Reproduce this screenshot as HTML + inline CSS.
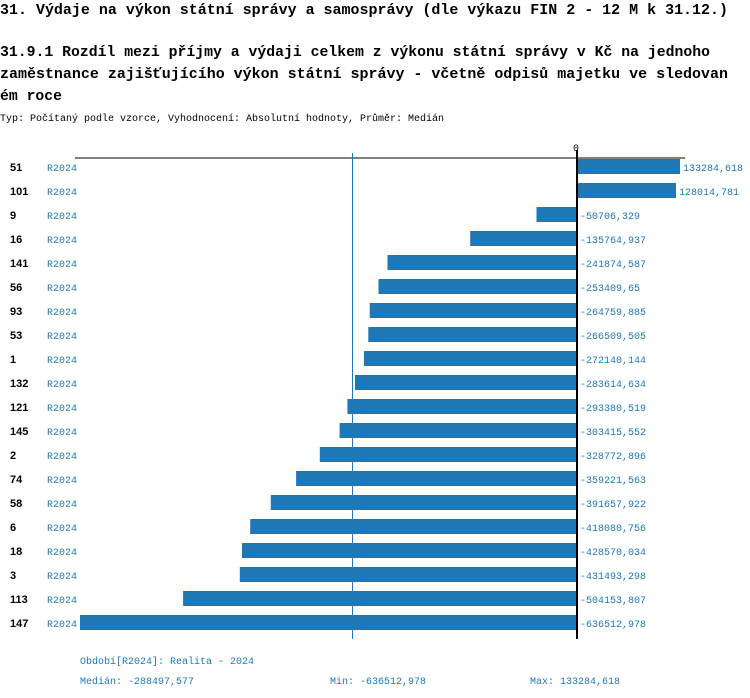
<!DOCTYPE html>
<html><head><meta charset="utf-8"><style>
body{margin:0;background:#fff;}
svg{display:block;}
.t{font-family:"Liberation Mono",monospace;font-weight:bold;font-size:15px;fill:#000;}
.s{font-family:"Liberation Mono",monospace;font-size:10px;fill:#000;}
.b{font-family:"Liberation Mono",monospace;font-size:10px;fill:#1f77b4;}
.n{font-family:"Liberation Sans",sans-serif;font-weight:bold;font-size:11px;fill:#000;}
</style></head><body>
<svg width="750" height="698" xmlns="http://www.w3.org/2000/svg">
<text class="t" x="0" y="14" textLength="728" lengthAdjust="spacingAndGlyphs">31. Výdaje na výkon státní správy a samosprávy (dle výkazu FIN 2 - 12 M k 31.12.)</text>
<text class="t" x="0" y="56" textLength="710" lengthAdjust="spacingAndGlyphs">31.9.1 Rozdíl mezi příjmy a výdaji celkem z výkonu státní správy v Kč na jednoho</text>
<text class="t" x="0" y="78" textLength="728" lengthAdjust="spacingAndGlyphs">zaměstnance zajišťujícího výkon státní správy - včetně odpisů majetku ve sledovan</text>
<text class="t" x="0" y="100" textLength="62" lengthAdjust="spacingAndGlyphs">ém roce</text>
<text class="s" x="0" y="121" textLength="444" lengthAdjust="spacingAndGlyphs">Typ: Počítaný podle vzorce, Vyhodnocení: Absolutní hodnoty, Průměr: Medián</text>
<line x1="75" y1="158" x2="685" y2="158" stroke="#000" stroke-width="1"/>
<text class="s" x="573" y="151">0</text>
<g fill="#1f77b4">
<rect x="576" y="159" width="104" height="15"/>
<rect x="576" y="183" width="100" height="15"/>
<rect x="536.5" y="207" width="39.5" height="15"/>
<rect x="470.2" y="231" width="105.8" height="15"/>
<rect x="387.5" y="255" width="188.5" height="15"/>
<rect x="378.5" y="279" width="197.5" height="15"/>
<rect x="369.7" y="303" width="206.3" height="15"/>
<rect x="368.3" y="327" width="207.7" height="15"/>
<rect x="363.9" y="351" width="212.1" height="15"/>
<rect x="355" y="375" width="221" height="15"/>
<rect x="347.4" y="399" width="228.6" height="15"/>
<rect x="339.6" y="423" width="236.4" height="15"/>
<rect x="319.8" y="447" width="256.2" height="15"/>
<rect x="296.1" y="471" width="279.9" height="15"/>
<rect x="270.8" y="495" width="305.2" height="15"/>
<rect x="250.2" y="519" width="325.8" height="15"/>
<rect x="242" y="543" width="334" height="15"/>
<rect x="239.8" y="567" width="336.2" height="15"/>
<rect x="183.1" y="591" width="392.9" height="15"/>
<rect x="80" y="615" width="496" height="15"/>
</g>
<line x1="352.5" y1="153" x2="352.5" y2="639" stroke="#1f77b4" stroke-width="1"/>
<line x1="577" y1="150" x2="577" y2="639" stroke="#000" stroke-width="2"/>
<g class="n">
<text x="10" y="171">51</text><text x="10" y="195">101</text><text x="10" y="219">9</text><text x="10" y="243">16</text>
<text x="10" y="267">141</text><text x="10" y="291">56</text><text x="10" y="315">93</text><text x="10" y="339">53</text>
<text x="10" y="363">1</text><text x="10" y="387">132</text><text x="10" y="411">121</text><text x="10" y="435">145</text>
<text x="10" y="459">2</text><text x="10" y="483">74</text><text x="10" y="507">58</text><text x="10" y="531">6</text>
<text x="10" y="555">18</text><text x="10" y="579">3</text><text x="10" y="603">113</text><text x="10" y="627">147</text>
</g>
<g class="b">
<text x="47" y="171">R2024</text><text x="47" y="195">R2024</text><text x="47" y="219">R2024</text><text x="47" y="243">R2024</text>
<text x="47" y="267">R2024</text><text x="47" y="291">R2024</text><text x="47" y="315">R2024</text><text x="47" y="339">R2024</text>
<text x="47" y="363">R2024</text><text x="47" y="387">R2024</text><text x="47" y="411">R2024</text><text x="47" y="435">R2024</text>
<text x="47" y="459">R2024</text><text x="47" y="483">R2024</text><text x="47" y="507">R2024</text><text x="47" y="531">R2024</text>
<text x="47" y="555">R2024</text><text x="47" y="579">R2024</text><text x="47" y="603">R2024</text><text x="47" y="627">R2024</text>
</g>
<g class="b">
<text x="683" y="171">133284,618</text><text x="679" y="195">128014,781</text>
<text x="580" y="219">-50706,329</text><text x="580" y="243">-135764,937</text>
<text x="580" y="267">-241874,587</text><text x="580" y="291">-253409,65</text>
<text x="580" y="315">-264759,885</text><text x="580" y="339">-266509,505</text>
<text x="580" y="363">-272140,144</text><text x="580" y="387">-283614,634</text>
<text x="580" y="411">-293380,519</text><text x="580" y="435">-303415,552</text>
<text x="580" y="459">-328772,896</text><text x="580" y="483">-359221,563</text>
<text x="580" y="507">-391657,922</text><text x="580" y="531">-418080,756</text>
<text x="580" y="555">-428570,034</text><text x="580" y="579">-431493,298</text>
<text x="580" y="603">-504153,807</text><text x="580" y="627">-636512,978</text>
</g>
<g class="b">
<text x="80" y="664">Období[R2024]: Realita - 2024</text>
<text x="80" y="684">Medián: -288497,577</text>
<text x="330" y="684">Min: -636512,978</text>
<text x="530" y="684">Max: 133284,618</text>
</g>
</svg>
</body></html>
